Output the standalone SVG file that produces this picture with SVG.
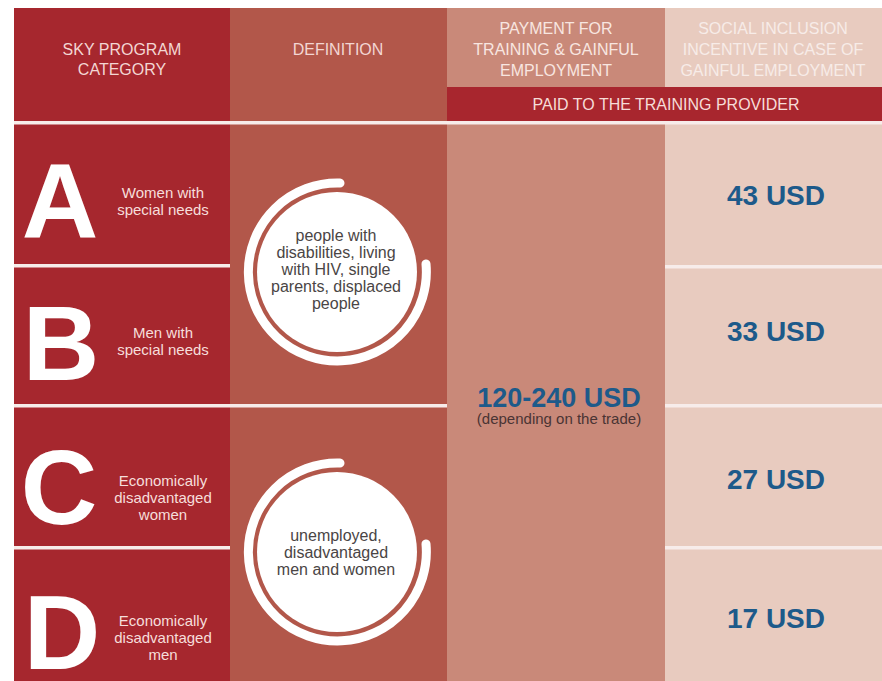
<svg xmlns="http://www.w3.org/2000/svg" width="882" height="681" viewBox="0 0 882 681">
  <style>
    text { font-family: "Liberation Sans", Arial, Helvetica, sans-serif; }
    .hdr { font-size: 16px; text-anchor: middle; }
    .letter { font-size: 106px; font-weight: bold; fill: #ffffff; text-anchor: middle; }
    .lbl { font-size: 15px; fill: #f6dedb; text-anchor: middle; }
    .circ { font-size: 16px; fill: #4a4545; text-anchor: middle; }
    .usd { font-size: 28px; font-weight: bold; fill: #1d5a8a; text-anchor: middle; }
    .sep { fill: #f7ecea; }
    .arc { fill: none; stroke: #ffffff; stroke-width: 9; stroke-linecap: round; }
  </style>
  <rect x="0" y="0" width="882" height="681" fill="#ffffff"/>

  <!-- column backgrounds -->
  <g id="columns">
    <rect x="14" y="8" width="216" height="673" fill="#a6272e"/>
    <rect x="230" y="8" width="217" height="673" fill="#b2574a"/>
    <rect x="447" y="8" width="218" height="673" fill="#c98979"/>
    <rect x="665" y="8" width="217" height="673" fill="#e8cbbf"/>
    <rect x="447" y="87" width="435" height="34" fill="#a8262e"/>
  </g>

  <!-- header -->
  <g id="header">
    <g id="h-category">
      <text class="hdr" x="122" y="55" fill="#f3d6d3">SKY PROGRAM</text>
      <text class="hdr" x="122" y="75" fill="#f3d6d3">CATEGORY</text>
    </g>
    <g id="h-definition">
      <text class="hdr" x="338" y="55" fill="#f3d6d3">DEFINITION</text>
    </g>
    <g id="h-payment">
      <text class="hdr" x="556" y="34" fill="#f8e6e0">PAYMENT FOR</text>
      <text class="hdr" x="556" y="55" fill="#f8e6e0">TRAINING &amp; GAINFUL</text>
      <text class="hdr" x="556" y="76" fill="#f8e6e0">EMPLOYMENT</text>
    </g>
    <g id="h-incentive">
      <text class="hdr" x="773" y="34" fill="#f7ece8">SOCIAL INCLUSION</text>
      <text class="hdr" x="773" y="55" fill="#f7ece8">INCENTIVE IN CASE OF</text>
      <text class="hdr" x="773" y="76" fill="#f7ece8">GAINFUL EMPLOYMENT</text>
    </g>
    <g id="h-paid">
      <text class="hdr" x="666" y="110" fill="#f6dcd8">PAID TO THE TRAINING PROVIDER</text>
    </g>
  </g>

  <!-- separators -->
  <g id="separators">
    <rect class="sep" x="14" y="121" width="868" height="3.5"/>
    <rect class="sep" x="14" y="264" width="216" height="3.5"/>
    <rect class="sep" x="665" y="265" width="217" height="3.5"/>
    <rect class="sep" x="14" y="404" width="433" height="3.5"/>
    <rect class="sep" x="665" y="404" width="217" height="3.5"/>
    <rect class="sep" x="14" y="546" width="216" height="3.5"/>
    <rect class="sep" x="665" y="546" width="217" height="3.5"/>
  </g>

  <!-- categories -->
  <g id="cat-a">
    <text class="letter" x="60" y="238">A</text>
    <text class="lbl" x="163" y="198">Women with</text>
    <text class="lbl" x="163" y="215">special needs</text>
  </g>
  <g id="cat-b">
    <text class="letter" x="61" y="380">B</text>
    <text class="lbl" x="163" y="338">Men with</text>
    <text class="lbl" x="163" y="355">special needs</text>
  </g>
  <g id="cat-c">
    <text class="letter" x="59" y="524">C</text>
    <text class="lbl" x="163" y="486">Economically</text>
    <text class="lbl" x="163" y="503">disadvantaged</text>
    <text class="lbl" x="163" y="520">women</text>
  </g>
  <g id="cat-d">
    <text class="letter" x="62" y="669">D</text>
    <text class="lbl" x="163" y="626">Economically</text>
    <text class="lbl" x="163" y="643">disadvantaged</text>
    <text class="lbl" x="163" y="660">men</text>
  </g>

  <!-- definitions -->
  <g id="def-special">
    <circle cx="337" cy="272" r="80" fill="#ffffff"/>
    <path class="arc" d="M 340 183 A 89 89 0 1 0 426 264"/>
    <text class="circ" x="336" y="241">people with</text>
    <text class="circ" x="336" y="258">disabilities, living</text>
    <text class="circ" x="336" y="275">with HIV, single</text>
    <text class="circ" x="336" y="292">parents, displaced</text>
    <text class="circ" x="336" y="309">people</text>
  </g>
  <g id="def-economic">
    <circle cx="337" cy="552" r="80" fill="#ffffff"/>
    <path class="arc" d="M 340 463 A 89 89 0 1 0 426 544"/>
    <text class="circ" x="336" y="541">unemployed,</text>
    <text class="circ" x="336" y="558">disadvantaged</text>
    <text class="circ" x="336" y="575">men and women</text>
  </g>

  <!-- payment -->
  <g id="payment">
    <text class="usd" x="559" y="407" style="font-size:27px">120-240 USD</text>
    <text x="559" y="424" style="font-size:15px;fill:#4a3434;text-anchor:middle">(depending on the trade)</text>
  </g>

  <!-- incentives -->
  <g id="inc-a"><text class="usd" x="776" y="205">43 USD</text></g>
  <g id="inc-b"><text class="usd" x="776" y="341">33 USD</text></g>
  <g id="inc-c"><text class="usd" x="776" y="489">27 USD</text></g>
  <g id="inc-d"><text class="usd" x="776" y="628">17 USD</text></g>
</svg>
